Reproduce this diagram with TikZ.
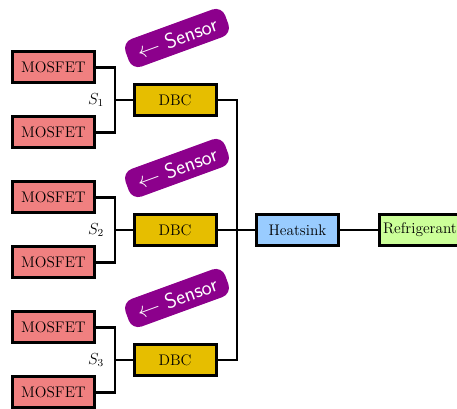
\documentclass[tikz,border=0pt]{standalone}
\usepackage{fontspec}
\definecolor{mosred}{RGB}{240,128,128}
\definecolor{dbcgold}{RGB}{230,190,0}
\definecolor{hsblue}{RGB}{153,204,255}
\definecolor{rfgreen}{RGB}{204,255,153}
\definecolor{sensorpurple}{RGB}{140,0,140}
\begin{document}
\begin{tikzpicture}[x=0.75pt,y=-0.75pt,
  box/.style={draw=black, line width=2.25pt, minimum width=61.5pt, minimum height=23.25pt, inner sep=0pt, font=\fontsize{11.5}{13}\selectfont},
  mos/.style={box, fill=mosred},
  dbc/.style={box, fill=dbcgold},
  hs/.style={box, fill=hsblue},
  rf/.style={box, fill=rfgreen},
  wire/.style={line width=1.9pt},
  sensor/.style={fill=sensorpurple, text=white, rounded corners=7.5pt, minimum width=79.5pt, minimum height=22pt, rotate=20, inner sep=0pt, font=\sffamily\fontsize{16}{18}\selectfont},
  slabel/.style={font=\fontsize{11.5}{13}\selectfont, inner sep=1pt}]
\useasboundingbox (0,0) rectangle (457,409);
\foreach \g/\yy in {1/100,2/230,3/360}{
  \node[mos] (ma\g) at (53.5,\yy-32.5) {MOSFET};
  \node[mos] (mb\g) at (53.5,\yy+32.5) {MOSFET};
  \node[dbc] (d\g) at (175,\yy) {DBC};
  \coordinate (j\g) at (115,\yy);
  \node[sensor] (sen\g) at (177,\yy-62) {$\leftarrow$ Sensor};
  \node[slabel, anchor=east] (s\g) at ([xshift=-7]j\g) {$S_\g$};
  \draw[wire] (ma\g.east) -| (j\g) |- (mb\g.east);
  \draw[wire] (j\g) -- (d\g.west);
}
\node[hs] (hs) at (297.5,230) {Heatsink};
\node[rf] (rf) at (420,230) {Refrigerant};
\coordinate (tx) at (237,230);
\draw[wire] (d1.east) -- (d1.east -| tx) -- (d3.east -| tx) -- (d3.east);
\draw[wire] (d2.east) -- (hs.west);
\draw[wire] (hs.east) -- (rf.west);
\end{tikzpicture}
\end{document}
